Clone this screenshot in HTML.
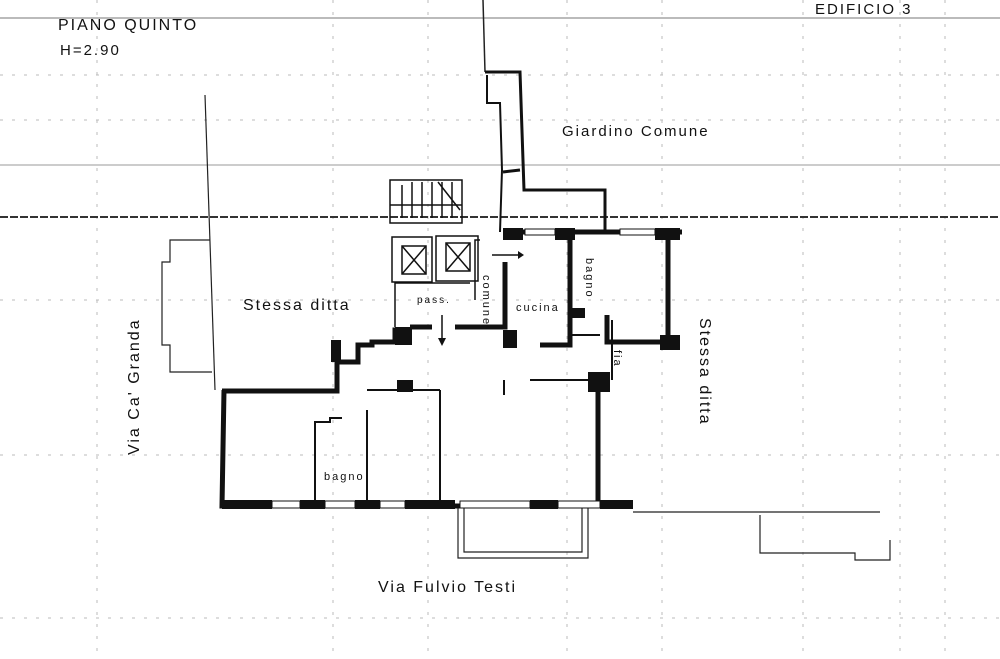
<!DOCTYPE html>
<html><head><meta charset="utf-8"><style>
html,body{margin:0;padding:0;background:#fff;}
svg{display:block}
text{font-family:"Liberation Sans",sans-serif;fill:#111;letter-spacing:2px}
</style></head><body>
<svg width="1000" height="659" viewBox="0 0 1000 659" xmlns="http://www.w3.org/2000/svg">
<rect width="1000" height="659" fill="#fff"/>
<g stroke="#bbb" stroke-width="1" stroke-dasharray="3,9" fill="none">
<line x1="97" y1="0" x2="97" y2="659"/>
<line x1="333" y1="0" x2="333" y2="659"/>
<line x1="428" y1="0" x2="428" y2="659"/>
<line x1="567" y1="0" x2="567" y2="659"/>
<line x1="662" y1="0" x2="662" y2="659"/>
<line x1="803" y1="0" x2="803" y2="659"/>
<line x1="900" y1="0" x2="900" y2="659"/>
<line x1="945" y1="0" x2="945" y2="659"/>
<line x1="0" y1="75" x2="1000" y2="75"/>
<line x1="0" y1="120" x2="1000" y2="120"/>
<line x1="0" y1="300" x2="1000" y2="300"/>
<line x1="0" y1="455" x2="1000" y2="455"/>
<line x1="0" y1="618" x2="1000" y2="618"/>
</g>
<line x1="0" y1="18" x2="1000" y2="18" stroke="#bbb" stroke-width="2"/>
<line x1="0" y1="165" x2="1000" y2="165" stroke="#bbb" stroke-width="1.5"/>
<line x1="0" y1="217" x2="1000" y2="217" stroke="#333" stroke-width="2" stroke-dasharray="8,2"/>
<line x1="483" y1="0" x2="485" y2="72" stroke="#222" stroke-width="1.5"/>
<g stroke="#222" fill="none" stroke-width="1.2">
<line x1="205" y1="95" x2="215" y2="390"/>
<polyline points="210,240 170,240 170,262 162,262 162,345 170,345 170,372 212,372"/>
<polyline points="633,512 880,512"/>
<polyline points="760,515 760,553 855,553 855,560 890,560 890,540"/>
<polyline points="458,508 458,558 588,558 588,508"/>
<polyline points="464,508 464,552 582,552 582,508"/>
</g>
<g stroke="#111" fill="none" stroke-width="3">
<polyline points="485,72 520,72 524,190 605,190 605,232"/>
<polyline points="487,75 487,103 500,103 502,170 500,232" stroke-width="2"/>
<polyline points="503,172 520,170"/>
</g>
<g stroke="#111" fill="none" stroke-width="1.5">
<rect x="390" y="180" width="72" height="43"/>
<line x1="402" y1="185" x2="402" y2="218"/><line x1="412" y1="182" x2="412" y2="218"/>
<line x1="422" y1="182" x2="422" y2="218"/><line x1="432" y1="182" x2="432" y2="218"/>
<line x1="442" y1="182" x2="442" y2="218"/><line x1="452" y1="182" x2="452" y2="218"/>
<line x1="390" y1="205" x2="462" y2="205"/>
<line x1="438" y1="182" x2="460" y2="210"/>
<rect x="392" y="237" width="40" height="45"/>
<rect x="436" y="236" width="42" height="45"/>
<rect x="402" y="246" width="24" height="28"/><line x1="402" y1="246" x2="426" y2="274"/><line x1="426" y1="246" x2="402" y2="274"/>
<rect x="446" y="243" width="24" height="28"/><line x1="446" y1="243" x2="470" y2="271"/><line x1="470" y1="243" x2="446" y2="271"/>
<polyline points="480,240 475,240 475,300"/>
<polyline points="395,327 395,283 470,283"/>
<line x1="492" y1="255" x2="518" y2="255"/>
<line x1="442" y1="315" x2="442" y2="340"/>
</g>
<polygon points="518,251 524,255 518,259" fill="#111"/>
<polygon points="438,338 446,338 442,346" fill="#111"/>
<g stroke="#111" fill="none" stroke-width="5" stroke-linejoin="miter">
<polyline points="224,390 222,506 633,506"/>
<polyline points="222,391 337,391 337,362 358,362 358,345 372,345 372,342 395,342 395,330 410,330"/>
<polyline points="410,327 432,327"/>
<polyline points="455,327 505,327 505,262"/>
<polyline points="570,240 570,345 540,345"/>
<polyline points="598,506 598,378 610,378"/>
<polyline points="668,232 668,342 607,342 607,315"/>
<polyline points="503,232 530,232"/><polyline points="552,232 605,232"/>
<polyline points="605,232 625,232"/><polyline points="640,232 682,232"/>
</g>
<g stroke="#111" fill="none" stroke-width="2">
<polyline points="315,505 315,422 330,422 330,418 342,418"/>
<line x1="367" y1="410" x2="367" y2="505"/>
<line x1="440" y1="390" x2="440" y2="505"/>
<polyline points="367,390 440,390"/>
<line x1="612" y1="320" x2="612" y2="380"/>
<line x1="572" y1="335" x2="600" y2="335"/>
<line x1="530" y1="380" x2="598" y2="380"/>
<line x1="504" y1="380" x2="504" y2="395"/>
</g>
<g fill="#111">
<rect x="331" y="340" width="10" height="22"/>
<rect x="395" y="327" width="17" height="18"/>
<rect x="397" y="380" width="16" height="12"/>
<rect x="503" y="330" width="14" height="18"/>
<rect x="588" y="372" width="22" height="20"/>
<rect x="660" y="335" width="20" height="15"/>
<rect x="503" y="228" width="20" height="12"/>
<rect x="555" y="228" width="20" height="12"/>
<rect x="655" y="228" width="25" height="12"/>
<rect x="570" y="308" width="15" height="10"/>
<rect x="222" y="500" width="50" height="9"/>
<rect x="300" y="500" width="25" height="9"/>
<rect x="355" y="500" width="25" height="9"/>
<rect x="405" y="500" width="50" height="9"/>
<rect x="530" y="500" width="28" height="9"/>
<rect x="600" y="500" width="33" height="9"/>
</g>
<g fill="#fff" stroke="#111" stroke-width="1">
<rect x="272" y="501" width="28" height="7"/><rect x="325" y="501" width="30" height="7"/>
<rect x="380" y="501" width="25" height="7"/><rect x="460" y="501" width="70" height="7"/>
<rect x="558" y="501" width="42" height="7"/>
<rect x="525" y="229" width="30" height="6"/><rect x="620" y="229" width="35" height="6"/>
</g>
<text x="58" y="30" font-size="16">PIANO  QUINTO</text>
<text x="60" y="55" font-size="15" letter-spacing="0">H=2.90</text>
<text x="815" y="14" font-size="15">EDIFICIO  3</text>
<text x="562" y="136" font-size="15">Giardino Comune</text>
<text x="243" y="310" font-size="16">Stessa ditta</text>
<text x="417" y="303" font-size="10" letter-spacing="0">pass.</text>
<text x="516" y="311" font-size="11" letter-spacing="0">cucina</text>
<text x="324" y="480" font-size="11" letter-spacing="0">bagno</text>
<text x="378" y="592" font-size="16">Via Fulvio Testi</text>
<text font-size="11" letter-spacing="0" transform="translate(483,275) rotate(90)">comune</text>
<text font-size="11" letter-spacing="0" transform="translate(586,258) rotate(90)">bagno</text>
<text font-size="11" letter-spacing="0" transform="translate(614,350) rotate(90)">fia</text>
<text font-size="16" transform="translate(139,455) rotate(-90)">Via Ca' Granda</text>
<text font-size="16" transform="translate(700,318) rotate(90)">Stessa ditta</text>
</svg>
</body></html>
